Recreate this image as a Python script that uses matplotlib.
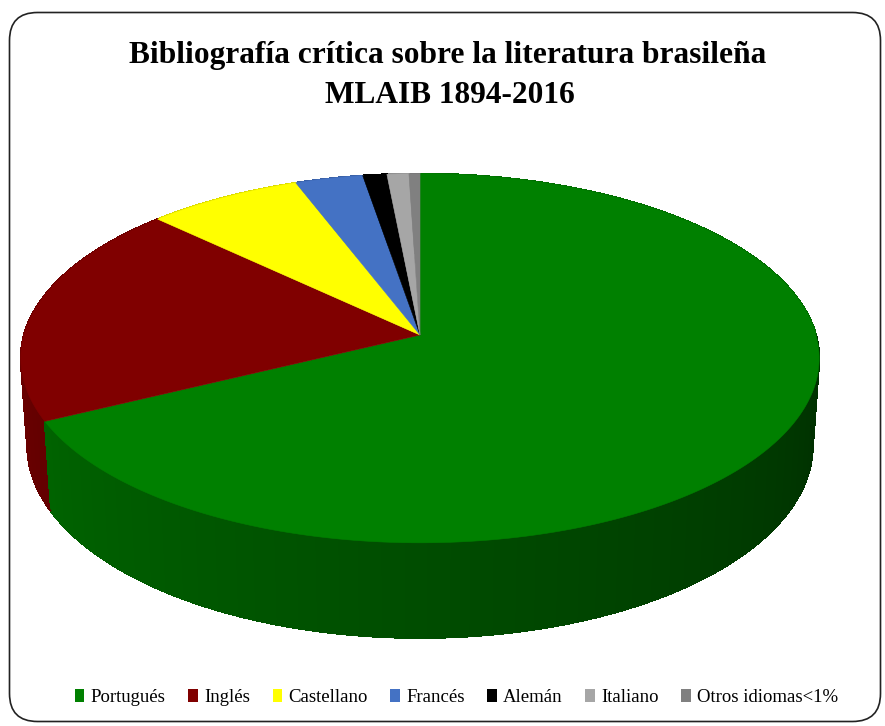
import numpy as np
import matplotlib.pyplot as plt
from matplotlib.patches import Polygon, FancyBboxPatch, Patch
from matplotlib.collections import PolyCollection, LineCollection

# Datos: distribución por idioma (%)
idiomas = ['Portugués', 'Inglés', 'Castellano', 'Francés', 'Alemán',
           'Italiano', 'Otros idiomas<1%']
porcentajes = [67.6, 19.6, 7.1, 3.1, 1.1, 1.0, 0.5]
colores = ['#008000', '#800000', '#ffff00', '#4472c4', '#000000',
           '#a6a6a6', '#808080']
titulo = ['Bibliografía crítica sobre la literatura brasileña',
          'MLAIB 1894-2016']

# Geometría de la tarta 3D (en píxeles)
CX, CY = 420, 335
S = 396
ELEV = np.radians(27.3)
DIST = 7.05
H = 0.25


def proyectar(x, y, z):
    v = y * np.sin(ELEV) + z * np.cos(ELEV)
    w = y * np.cos(ELEV) - z * np.sin(ELEV)
    k = S / (1 + w / DIST)
    return CX + x * k, CY - v * k, w


def sombra(color, theta):
    # luz desde la izquierda: el lateral se oscurece hacia la derecha
    t = np.clip((np.degrees(theta) % 360 - 180) / 180, 0, 1)
    f = 0.85 - 0.5 * t
    rgb = np.array(plt.matplotlib.colors.to_rgb(color))
    return tuple(rgb * f)


fig = plt.figure(figsize=(8.85, 7.26), dpi=100)
ax = fig.add_axes([0, 0, 1, 1])
ax.set_xlim(0, 885)
ax.set_ylim(726, 0)
ax.axis('off')

marco = FancyBboxPatch((9.5, 12.5), 871, 709,
                       boxstyle='round,pad=0,rounding_size=28',
                       fill=False, ec='#222222', lw=1.2)
ax.add_patch(marco)

acum = np.concatenate([[0], np.cumsum(porcentajes)]) / np.sum(porcentajes)
inicio = np.radians(90 - 360 * acum[:-1])
fin = np.radians(90 - 360 * acum[1:])

# Lateral: segmentos ordenados de atrás hacia delante
segmentos = []
for i in range(len(porcentajes)):
    n = max(2, int(2 * abs(np.degrees(fin[i] - inicio[i]))))
    th = np.linspace(inicio[i], fin[i], n + 1)
    for a, b in zip(th[:-1], th[1:]):
        xa, ya = np.cos(a), np.sin(a)
        xb, yb = np.cos(b), np.sin(b)
        p1 = proyectar(xa, ya, 0)
        p2 = proyectar(xb, yb, 0)
        p3 = proyectar(xb, yb, -H)
        p4 = proyectar(xa, ya, -H)
        m = (a + b) / 2
        prof = proyectar(np.cos(m), np.sin(m), -H / 2)[2]
        pts = [(p[0], p[1]) for p in (p1, p2, p3, p4)]
        segmentos.append((prof, pts, sombra(colores[i], m),
                          [(p3[0], p3[1]), (p4[0], p4[1])], np.sin(m)))

segmentos.sort(key=lambda s: -s[0])
lados = PolyCollection([s[1] for s in segmentos],
                       facecolors=[s[2] for s in segmentos],
                       edgecolors=[s[2] for s in segmentos],
                       linewidths=0.8, antialiased=False)
ax.add_collection(lados)
# borde inferior suavizado (solo la parte delantera)
delante = [s for s in segmentos if s[4] < -0.02]
borde = LineCollection([s[3] for s in delante],
                       colors=[s[2] for s in delante], linewidths=1.0)
ax.add_collection(borde)

# Cara superior
for i in range(len(porcentajes)):
    th = np.linspace(inicio[i], fin[i], 200)
    xs, ys, _ = proyectar(np.cos(th), np.sin(th), 0)
    pts = [(CX, CY)] + list(zip(xs, ys))
    ax.add_patch(Polygon(pts, closed=True, fc=colores[i], ec=colores[i],
                         lw=0.4))

fuente = 'Liberation Serif'
ax.text(448, 63, titulo[0], ha='center', va='baseline', fontsize=22.6,
        fontweight='bold', family=fuente)
ax.text(450, 103, titulo[1], ha='center', va='baseline', fontsize=22.6,
        fontweight='bold', family=fuente)

manejadores = [Patch(fc=c, ec='none') for c in colores]
fig.legend(manejadores, idiomas, loc='center', bbox_to_anchor=(0.516, 0.039),
           ncol=len(idiomas), frameon=False,
           prop={'family': fuente, 'size': 13.5},
           handlelength=0.5, handleheight=0.65, handletextpad=0.35,
           columnspacing=1.2)

fig.savefig('out.png', dpi=100)
